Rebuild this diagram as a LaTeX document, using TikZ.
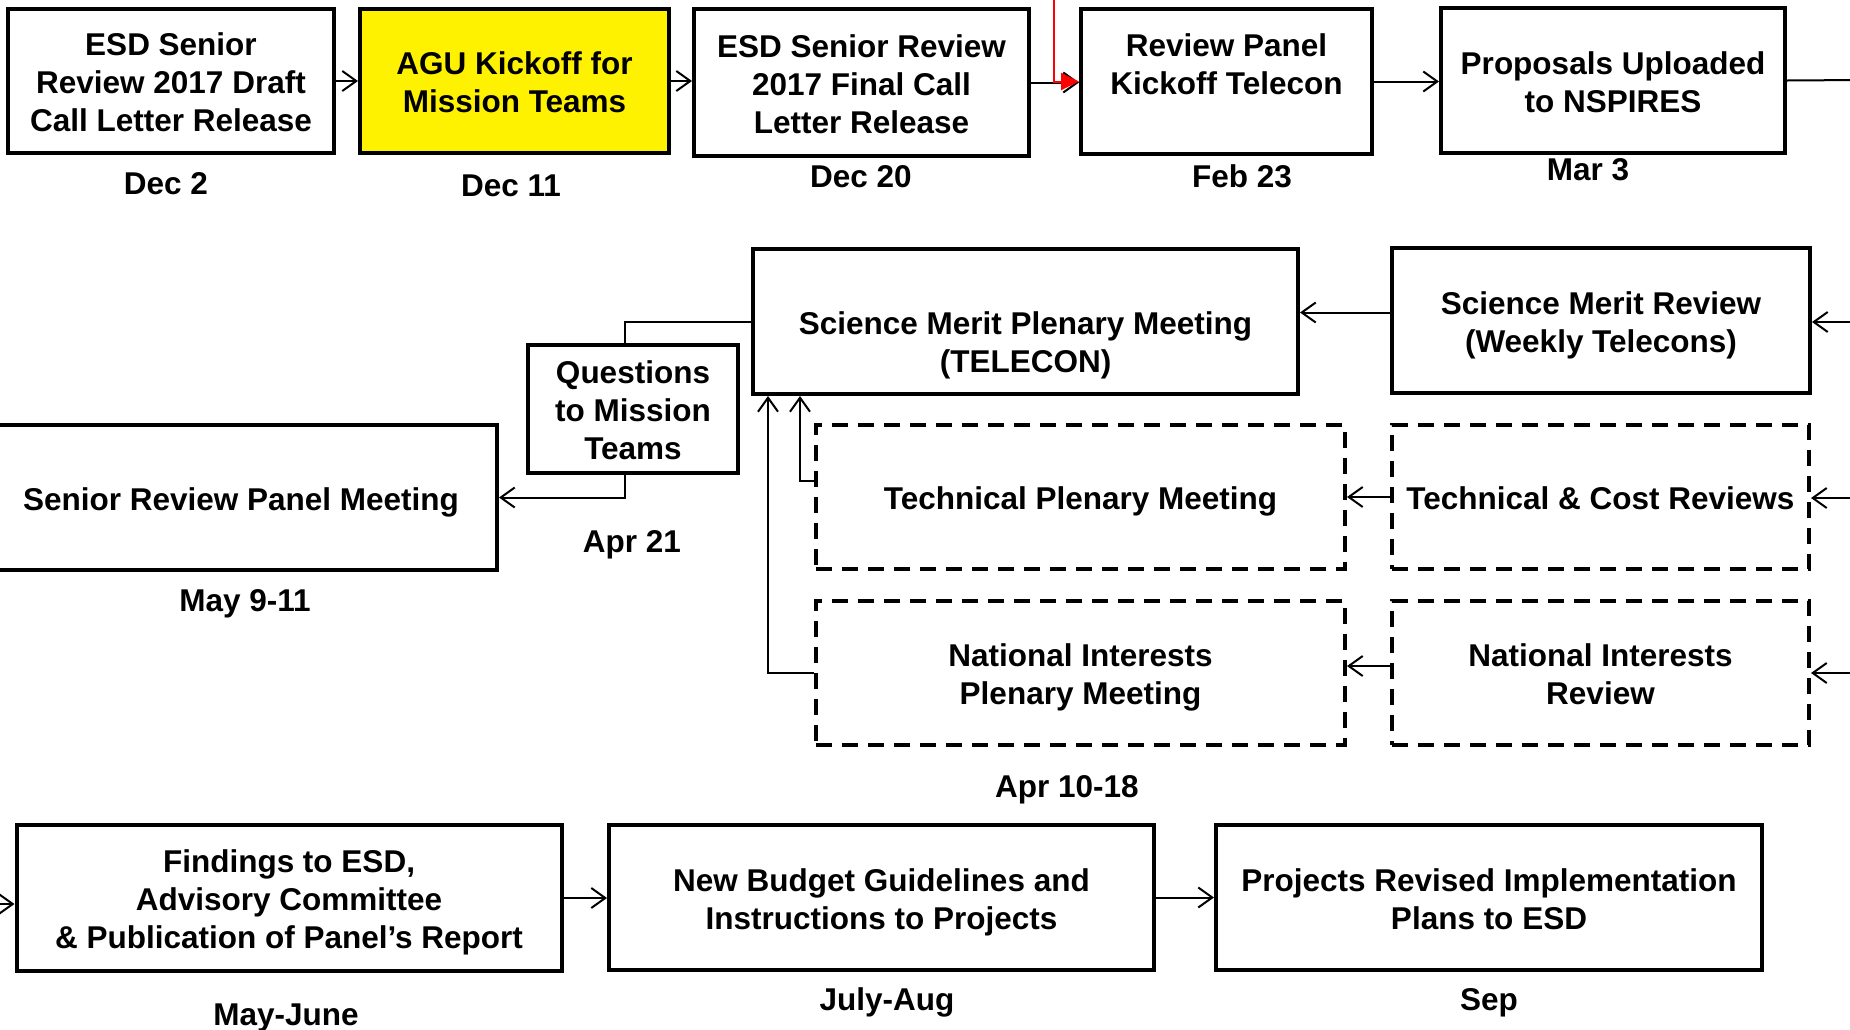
\documentclass[tikz,border=0pt]{standalone}
\usepackage{fontspec}
\setmainfont{Liberation Sans}
\usetikzlibrary{arrows.meta}
\newcommand\diagfont{\fontsize{31.5}{38}\selectfont\bfseries}
\newcommand\ls{\rule[-6.7pt]{0pt}{35.2pt}}
\newcommand\lf{\rule[-6.7pt]{0pt}{39.2pt}}
\begin{document}
\begin{tikzpicture}[x=1pt,y=-1pt,
  box/.style={draw, line width=4pt, inner sep=0pt, outer sep=2pt, align=center, font=\diagfont},
  dbox/.style={box, dash pattern=on 16pt off 10pt},
  datelbl/.style={inner sep=0pt, font=\diagfont},
  arr/.style={line width=2pt, -{Straight Barb[length=14pt,width=20pt]}},
  plain/.style={line width=2pt},
  redarr/.style={line width=2pt, red, -{Triangle[length=18pt,width=17pt]}}
]
\clip (0,0) rectangle (1850,1029);
\fill[white] (0,0) rectangle (1850,1029);

% Row 1
\node[box, minimum width=326pt, minimum height=144pt] (b1) at (171,81) {\lf ESD Senior\\\ls Review 2017 Draft\\\ls Call Letter Release};
\node[box, fill=yellow, minimum width=309pt, minimum height=144pt] (b2) at (514.5,81) {\lf AGU Kickoff for\\\ls Mission Teams};
\node[box, minimum width=335pt, minimum height=147pt] (b3) at (861.5,82.5) {\lf ESD Senior Review\\\ls 2017 Final Call\\\ls Letter Release};
\node[box, minimum width=291pt, minimum height=145pt] (b4) at (1226.5,81.5) {\lf Review Panel\\\ls Kickoff Telecon\\\ls};
\node[box, minimum width=344pt, minimum height=145pt] (b5) at (1613,80.5) {\lf Proposals Uploaded\\\ls to NSPIRES};

\node[datelbl] (d1) at (166,184) {Dec 2};
\node[datelbl] (d2) at (511,186) {Dec 11};
\node[datelbl] (d3) at (861,177) {Dec 20};
\node[datelbl] (d4) at (1242,176) {Feb 23};
\node[datelbl] (d5) at (1588,170) {Mar 3};

% Row 2
\node[box, minimum width=545pt, minimum height=145pt] (smp) at (1025.5,321.5) {\lf\\\ls Science Merit Plenary Meeting\\\ls (TELECON)};
\node[box, minimum width=418pt, minimum height=145pt] (smr) at (1601,320.5) {\lf Science Merit Review\\\ls (Weekly Telecons)};
\node[box, minimum width=210pt, minimum height=128pt] (q) at (633,409) {\lf Questions\\\ls to Mission\\\ls Teams};
\node[box, minimum width=512pt, minimum height=145pt] (srpm) at (241,497.5) {\lf Senior Review Panel Meeting};
\node[dbox, minimum width=529pt, minimum height=144pt] (tpm) at (1080.5,497) {\lf Technical Plenary Meeting};
\node[dbox, minimum width=417pt, minimum height=144pt] (tcr) at (1600.5,497) {\lf Technical \& Cost Reviews};
\node[dbox, minimum width=529pt, minimum height=144pt] (nipm) at (1080.5,673) {\lf National Interests\\\ls Plenary Meeting};
\node[dbox, minimum width=417pt, minimum height=144pt] (nir) at (1600.5,673) {\lf National Interests\\\ls Review};

\node[datelbl] (d6) at (632,544.5) {Apr 21};
\node[datelbl] (d7) at (245,603.5) {May 9-11};
\node[datelbl] (d8) at (1067,789.5) {Apr 10-18};

% Row 3
\node[box, minimum width=545pt, minimum height=146pt] (fnd) at (289,898) {\lf Findings to ESD,\\\ls Advisory Committee\\\ls\& Publication of Panel’s Report};
\node[box, minimum width=545pt, minimum height=145pt] (nbg) at (881.5,897.5) {\lf New Budget Guidelines and\\\ls Instructions to Projects};
\node[box, minimum width=546pt, minimum height=145pt] (prj) at (1489,897.5) {\lf Projects Revised Implementation\\\ls Plans to ESD};

\node[datelbl] (d9) at (286,1017.5) {May-June};
\node[datelbl] (d10) at (887,1002) {July-Aug};
\node[datelbl] (d11) at (1489,1003) {Sep};

% free ends at the picture edges
\coordinate (rtop) at (1054,-5);
\coordinate (eout) at (1860,80);
\coordinate (ein1) at (1860,322);
\coordinate (ein2) at (1860,498);
\coordinate (ein3) at (1860,673);
\coordinate (ein4) at (-10,904);

% Row 1 connectors
\draw[arr] (b1.east) -- (b1.east -| b2.west);
\draw[arr] (b2.east) -- (b2.east -| b3.west);
\draw[arr] (b3.east) -- (b3.east -| b4.west);
\draw[redarr] (rtop) |- (b4.west);
\draw[arr] (b4.east) -- (b4.east -| b5.west);
\draw[plain] (b5.east) -- (eout);

% Row 2 connectors
\draw[arr] (ein1) -- (ein1 -| smr.east);
\draw[arr] (ein2) -- (ein2 -| tcr.east);
\draw[arr] (ein3) -- (ein3 -| nir.east);
\draw[arr] ([yshift=8pt]smr.west) -- ([yshift=8pt]smr.west -| smp.east);
\draw[arr] (tcr.west) -- (tcr.west -| tpm.east);
\draw[arr] ([yshift=7pt]nir.west) -- ([yshift=7pt]nir.west -| nipm.east);
\draw[arr] ([yshift=16pt]tpm.west) -| ([xshift=49pt]smp.south west);
\draw[arr] (nipm.west) -| ([xshift=17pt]smp.south west);
\draw[plain] (smp.west) -| ([xshift=-8pt]q.north);
\draw[arr] ([xshift=-8pt]q.south) |- (srpm.east);

% Row 3 connectors
\draw[arr] (ein4) -- (ein4 -| fnd.west);
\draw[arr] (fnd.east) -- (fnd.east -| nbg.west);
\draw[arr] (nbg.east) -- (nbg.east -| prj.west);
\end{tikzpicture}
\end{document}
